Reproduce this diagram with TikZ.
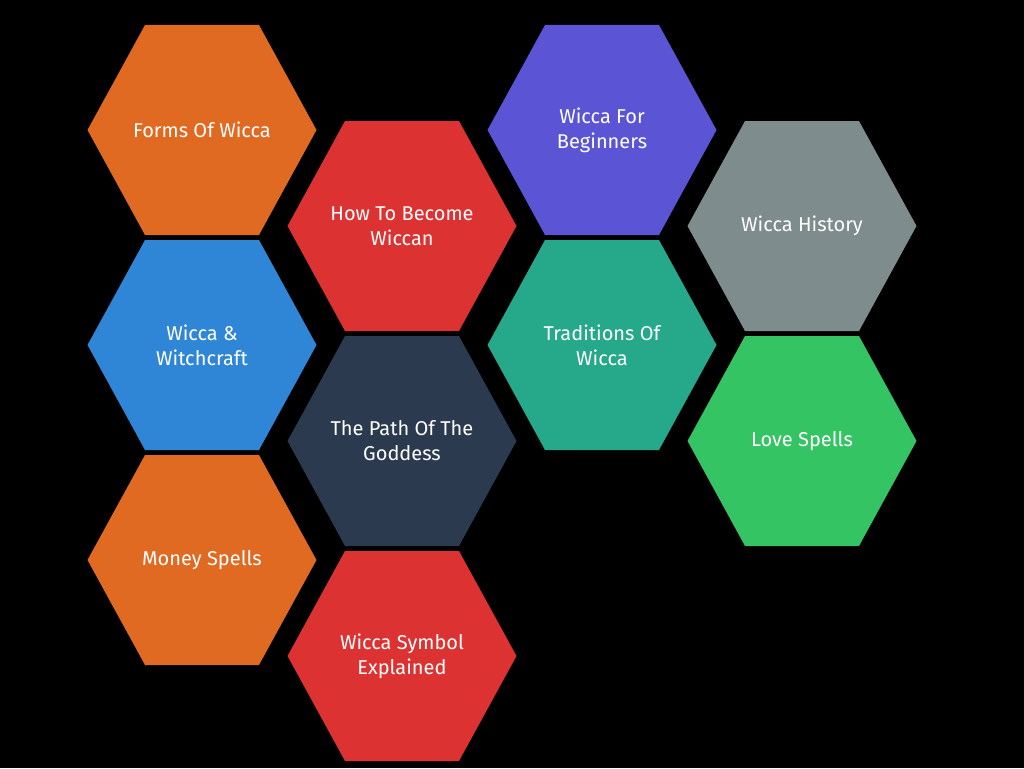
\documentclass[tikz,border=0pt]{standalone}
\usepackage{fontspec}
\setmainfont{Fira Sans}
\definecolor{corange}{HTML}{E06A22}
\definecolor{cred}{HTML}{DD3232}
\definecolor{cpurple}{HTML}{5B55D6}
\definecolor{cgray}{HTML}{7F8C8D}
\definecolor{cblue}{HTML}{2F86D6}
\definecolor{cteal}{HTML}{26A88A}
\definecolor{cdark}{HTML}{2B3A4F}
\definecolor{cgreen}{HTML}{35C464}
\tikzset{hextext/.style={text=white,font=\fontsize{20}{25}\selectfont,align=center}}
\newcommand{\hexa}[5]{%
  \fill[#3] (#1pt+114.5pt,-#2pt) -- (#1pt+57pt,-#2pt+105pt) -- (#1pt-57pt,-#2pt+105pt)
    -- (#1pt-114.5pt,-#2pt) -- (#1pt-57pt,-#2pt-105pt) -- (#1pt+57pt,-#2pt-105pt) -- cycle;
  \node[hextext] (#4) at (#1pt,-#2pt) {#5};}
\begin{document}
\begin{tikzpicture}
\fill[black] (0,0) rectangle (1024pt,-768pt);
\useasboundingbox (0,0) rectangle (1024pt,-768pt);
\hexa{202}{130}{corange}{forms}{Forms Of Wicca}
\hexa{202}{345}{cblue}{witch}{Wicca \&\\Witchcraft}
\hexa{202}{560}{corange}{money}{Money Spells}
\hexa{402}{226}{cred}{become}{How To Become\\Wiccan}
\hexa{402}{441}{cdark}{path}{The Path Of The\\Goddess}
\hexa{402}{656}{cred}{symbol}{Wicca Symbol\\Explained}
\hexa{602}{130}{cpurple}{begin}{Wicca For\\Beginners}
\hexa{602}{345}{cteal}{trad}{Traditions Of\\Wicca}
\hexa{802}{226}{cgray}{hist}{Wicca History}
\hexa{802}{441}{cgreen}{love}{Love Spells}
\end{tikzpicture}
\end{document}
